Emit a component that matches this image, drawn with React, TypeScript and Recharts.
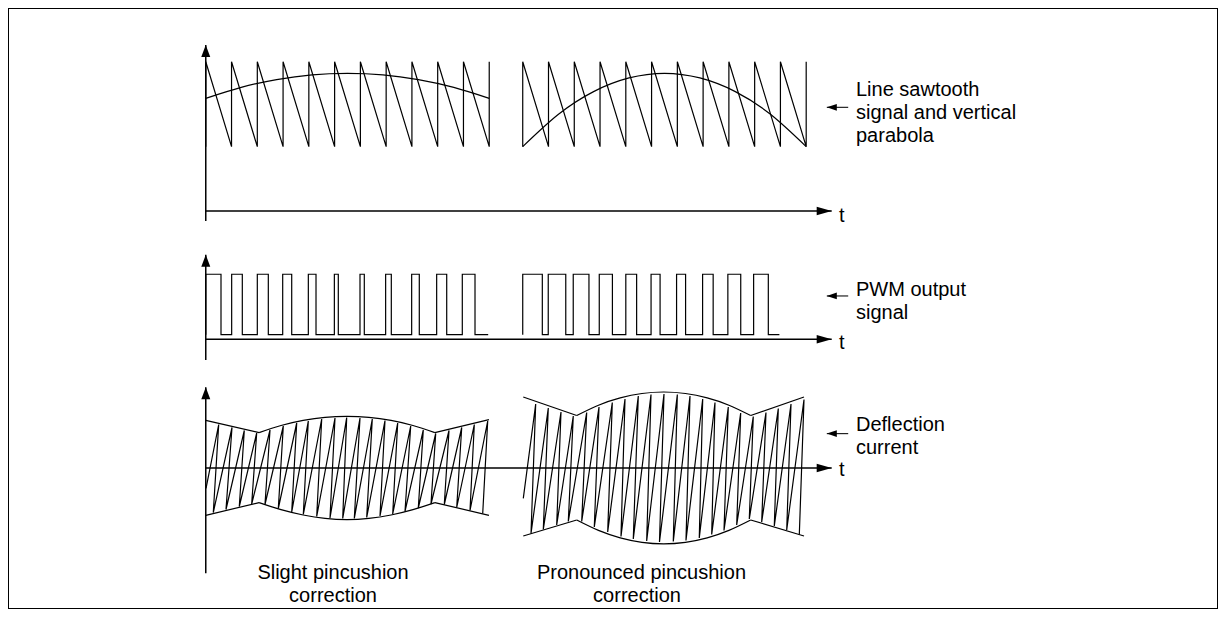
import React from 'react';
import { LineChart, Line, XAxis, YAxis, ReferenceLine, ReferenceDot } from 'recharts';

// ---------- time axis (1 unit = one line period) ----------
const X_DOMAIN: [number, number] = [-1, 25];
const T_AXIS_END = 24.29;
const LABEL_ARROW_TIP = 24.1;
const LABEL_ARROW_TAIL = 24.93;

// ---------- panel 1: line sawtooth + vertical parabola ----------
const SAW_HIGH = 9.95;
const SAW_LOW = 4.29;
const sawLeftTimes = [0, 1, 2, 3, 4, 5, 6, 7, 8, 9, 10, 11];
const sawRightTimes = [12.3, 13.3, 14.3, 15.3, 16.3, 17.3, 18.3, 19.3, 20.3, 21.3, 22.3, 23.3];
const paraLeftT = [0, 1.375, 2.75, 4.125, 5.5, 6.875, 8.25, 9.625, 11];
const paraLeftV = [7.51, 8.24, 8.76, 9.08, 9.18, 9.08, 8.76, 8.24, 7.51];
const paraRightT = [12.3, 13.675, 15.05, 16.425, 17.8, 19.175, 20.55, 21.925, 23.3];
const paraRightV = [4.29, 6.43, 7.96, 8.87, 9.18, 8.87, 7.96, 6.43, 4.29];
const P1_DOMAIN: [number, number] = [-1.6, 11.4];
const P1_YAXIS: [number, number] = [-0.67, 11.07];
const P1_LABEL_Y = 6.91;

// ---------- panel 2: PWM output ----------
const PWM_HIGH = 1;
const PWM_LOW = 0.07;
const pwmLeftRise = [0, 1.005, 2.0, 2.985, 3.98, 4.99, 5.985, 6.98, 7.99, 8.96, 9.955];
const pwmLeftFall = [0.591, 1.418, 2.427, 3.335, 4.278, 5.143, 6.152, 7.2, 8.286, 9.35, 10.448];
const PWM_LEFT_END = 10.96;
const pwmRightRise = [12.3, 13.29, 14.26, 15.27, 16.3, 17.28, 18.27, 19.28, 20.26, 21.26];
const pwmRightFall = [13.06, 13.97, 14.87, 15.78, 16.72, 17.63, 18.62, 19.69, 20.76, 21.83];
const PWM_RIGHT_END = 22.26;
const P2_DOMAIN: [number, number] = [-0.35, 1.45];
const P2_YAXIS: [number, number] = [-0.32, 1.3];
const P2_LABEL_Y = 0.666;

// ---------- panel 3: deflection current ----------
const deflLeftStart = { t: 0.01, v: -2.03 };
const deflLeftTopT = [0.502, 1.018, 1.495, 1.976, 2.493, 3.009, 3.529, 3.979, 4.499, 5.015, 5.469, 5.985, 6.462, 6.955, 7.448, 7.953, 8.441, 8.923, 9.439, 9.932, 10.421, 10.941];
const deflLeftTopV = [4.35, 4.05, 3.75, 3.5, 3.8, 4.2, 4.5, 4.7, 4.9, 5.0, 5.05, 5.0, 4.9, 4.75, 4.5, 4.2, 3.8, 3.45, 3.75, 4.05, 4.35, 4.7];
const deflLeftBotT = [0.292, 0.785, 1.301, 1.782, 2.298, 2.815, 3.335, 3.785, 4.305, 4.821, 5.314, 5.764, 6.245, 6.761, 7.254, 7.731, 8.248, 8.74, 9.256, 9.738, 10.254, 10.747];
const deflLeftBotV = [-4.45, -4.15, -3.85, -3.6, -3.65, -4.05, -4.4, -4.65, -4.85, -5.0, -5.05, -5.05, -4.95, -4.8, -4.6, -4.35, -4.0, -3.6, -3.65, -3.95, -4.25, -4.55];

const deflRightStart = { t: 12.322, v: -3.03 };
const deflRightTopT = [12.803, 13.292, 13.785, 14.262, 14.782, 15.26, 15.776, 16.269, 16.785, 17.278, 17.782, 18.3, 18.791, 19.284, 19.761, 20.277, 20.758, 21.247, 21.74, 22.218, 22.711, 23.215];
const deflRightTopV = [6.4, 6.0, 5.6, 5.2, 5.55, 6.1, 6.55, 6.9, 7.2, 7.35, 7.4, 7.35, 7.2, 6.9, 6.55, 6.1, 5.5, 5.15, 5.55, 5.95, 6.4, 6.85];
const deflRightBotT = [12.621, 13.098, 13.618, 14.068, 14.588, 15.077, 15.597, 16.113, 16.59, 17.11, 17.607, 18.142, 18.635, 19.151, 19.633, 20.11, 20.603, 21.092, 21.573, 22.062, 22.544, 23.033];
const deflRightBotV = [-6.55, -6.15, -5.7, -5.35, -5.35, -5.9, -6.4, -6.85, -7.1, -7.3, -7.4, -7.35, -7.25, -7.0, -6.65, -6.25, -5.7, -5.1, -5.4, -5.8, -6.2, -6.65];

// envelopes: [start, notch] straight, arc between notches, [notch, end] straight
const envLeftEdgeT = [0, 2.07, 8.89, 10.99];
const envLeftUpperEdgeV = [4.77, 3.54, 3.54, 4.84];
const envLeftLowerEdgeV = [-4.73, -3.46, -3.46, -4.73];
const envLeftArcT = [2.07, 2.92, 3.78, 4.63, 5.48, 6.33, 7.19, 8.04, 8.89];
const envLeftUpperArcV = [3.54, 4.25, 4.76, 5.07, 5.17, 5.07, 4.76, 4.25, 3.54];
const envLeftLowerArcV = [-3.46, -4.17, -4.7, -5.04, -5.16, -5.04, -4.7, -4.17, -3.46];

const envRightEdgeT = [12.32, 14.395, 21.147, 23.215];
const envRightUpperEdgeV = [7.1, 5.25, 5.25, 7.1];
const envRightLowerEdgeV = [-6.8, -5.2, -5.2, -6.8];
const envRightArcT = [14.395, 15.239, 16.083, 16.927, 17.77, 18.614, 19.458, 20.302, 21.147];
const envRightUpperArcV = [5.25, 6.28, 7.01, 7.45, 7.6, 7.45, 7.01, 6.28, 5.25];
const envRightLowerArcV = [-5.2, -6.24, -6.98, -7.43, -7.58, -7.43, -6.98, -6.24, -5.2];

const P3_DOMAIN: [number, number] = [-11, 9];
const P3_YAXIS: [number, number] = [-10.53, 8.07];
const P3_LABEL_Y = 3.44;

// ---------- texts ----------
const label1 = ['Line sawtooth', 'signal and vertical', 'parabola'];
const label2 = ['PWM output', 'signal'];
const label3 = ['Deflection', 'current'];
const caption1 = ['Slight pincushion', 'correction'];
const caption2 = ['Pronounced pincushion', 'correction'];
const AXIS_T = 't';

// ---------- helpers that build library data from the arrays ----------
type Pt = { t: number; v: number };
const zip = (ts: number[], vs: number[]): Pt[] => ts.map((t, i) => ({ t, v: vs[i] }));
const sawPoints = (times: number[]): Pt[] =>
  times.flatMap((t) => [{ t, v: SAW_LOW }, { t, v: SAW_HIGH }]);
const pwmPoints = (rise: number[], fall: number[], end: number): Pt[] => [
  ...rise.flatMap((r, i) => [
    { t: r, v: PWM_LOW },
    { t: r, v: PWM_HIGH },
    { t: fall[i], v: PWM_HIGH },
    { t: fall[i], v: PWM_LOW },
  ]),
  { t: end, v: PWM_LOW },
];
const deflPoints = (start: Pt, topT: number[], topV: number[], botT: number[], botV: number[]): Pt[] => [
  start,
  ...topT.flatMap((t, i) => [{ t, v: topV[i] }, { t: botT[i], v: botV[i] }]),
];

const FONT = '"Liberation Sans", Arial, Helvetica, sans-serif';
const CHART_LEFT = 172;
const CHART_WIDTH = 670;

const arrowRight = (len: number, hw: number, fill = '#000') => (p: any) => (
  <polygon points={`${p.cx},${p.cy} ${p.cx - len},${p.cy - hw} ${p.cx - len},${p.cy + hw}`} fill={fill} />
);
const arrowLeft = (len: number, hw: number, fill = '#000') => (p: any) => (
  <polygon points={`${p.cx},${p.cy} ${p.cx + len},${p.cy - hw} ${p.cx + len},${p.cy + hw}`} fill={fill} />
);
const arrowUp = (len: number, hw: number) => (p: any) => (
  <polygon points={`${p.cx},${p.cy} ${p.cx - hw},${p.cy + len} ${p.cx + hw},${p.cy + len}`} fill="#000" />
);

const sig = (key: string, data: Pt[], type: 'linear' | 'natural' = 'linear') => (
  <Line
    key={key}
    data={data}
    dataKey="v"
    type={type}
    stroke="#000"
    strokeWidth={1.2}
    dot={false}
    activeDot={false}
    isAnimationActive={false}
  />
);

function axes(yAxis: [number, number], labelY: number) {
  return [
    <ReferenceLine key="ya" segment={[{ x: 0, y: yAxis[0] }, { x: 0, y: yAxis[1] }]} stroke="#000" strokeWidth={1.5} ifOverflow="visible" />,
    <ReferenceDot key="yah" x={0} y={yAxis[1]} r={0} ifOverflow="visible" shape={arrowUp(12, 4.5)} />,
    <ReferenceLine key="ta" segment={[{ x: 0, y: 0 }, { x: T_AXIS_END, y: 0 }]} stroke="#000" strokeWidth={1.5} ifOverflow="visible" />,
    <ReferenceDot key="tah" x={T_AXIS_END} y={0} r={0} ifOverflow="visible" shape={arrowRight(15, 4.2)} />,
    <ReferenceLine key="la" segment={[{ x: LABEL_ARROW_TIP, y: labelY }, { x: LABEL_ARROW_TAIL, y: labelY }]} stroke="#222" strokeWidth={1.2} ifOverflow="visible" />,
    <ReferenceDot key="lah" x={LABEL_ARROW_TIP} y={labelY} r={0} ifOverflow="visible" shape={arrowLeft(10, 3.4)} />,
  ];
}

function Panel({ top, height, domain, children }: { top: number; height: number; domain: [number, number]; children: React.ReactNode }) {
  return (
    <div style={{ position: 'absolute', left: CHART_LEFT, top }}>
      <LineChart width={CHART_WIDTH} height={height} margin={{ top: 0, right: 0, bottom: 0, left: 0 }}>
        <XAxis type="number" dataKey="t" domain={X_DOMAIN} hide allowDataOverflow />
        <YAxis type="number" domain={domain} hide allowDataOverflow />
        {children}
      </LineChart>
    </div>
  );
}

function TextBlock({ lines, left, top, width, align }: { lines: string[]; left: number; top: number; width?: number; align?: 'left' | 'center' }) {
  return (
    <div
      style={{
        position: 'absolute',
        left,
        top,
        width,
        fontFamily: FONT,
        fontSize: 20,
        lineHeight: '23px',
        color: '#000',
        textAlign: align || 'left',
        whiteSpace: 'nowrap',
      }}
    >
      {lines.map((l, i) => (
        <div key={i}>{l}</div>
      ))}
    </div>
  );
}

export default function App() {
  return (
    <div style={{ position: 'relative', width: 1210, height: 601, background: '#fff' }}>
      <div style={{ position: 'absolute', left: 0, top: 0, width: 1210, height: 601, border: '1px solid #000', boxSizing: 'border-box' as any }} />

      <Panel top={32} height={195} domain={P1_DOMAIN}>
        {axes(P1_YAXIS, P1_LABEL_Y)}
        {sig('sawL', sawPoints(sawLeftTimes))}
        {sig('sawR', sawPoints(sawRightTimes))}
        {sig('parL', zip(paraLeftT, paraLeftV), 'natural')}
        {sig('parR', zip(paraRightT, paraRightV), 'natural')}
      </Panel>

      <Panel top={237} height={117} domain={P2_DOMAIN}>
        {axes(P2_YAXIS, P2_LABEL_Y)}
        {sig('pwmL', pwmPoints(pwmLeftRise, pwmLeftFall, PWM_LEFT_END))}
        {sig('pwmR', pwmPoints(pwmRightRise, pwmRightFall, PWM_RIGHT_END))}
      </Panel>

      <Panel top={369.7} height={200} domain={P3_DOMAIN}>
        {axes(P3_YAXIS, P3_LABEL_Y)}
        {sig('dL', deflPoints(deflLeftStart, deflLeftTopT, deflLeftTopV, deflLeftBotT, deflLeftBotV))}
        {sig('dR', deflPoints(deflRightStart, deflRightTopT, deflRightTopV, deflRightBotT, deflRightBotV))}
        {sig('eLUe1', zip(envLeftEdgeT.slice(0, 2), envLeftUpperEdgeV.slice(0, 2)))}
        {sig('eLUe2', zip(envLeftEdgeT.slice(2), envLeftUpperEdgeV.slice(2)))}
        {sig('eLLe1', zip(envLeftEdgeT.slice(0, 2), envLeftLowerEdgeV.slice(0, 2)))}
        {sig('eLLe2', zip(envLeftEdgeT.slice(2), envLeftLowerEdgeV.slice(2)))}
        {sig('eLUa', zip(envLeftArcT, envLeftUpperArcV), 'natural')}
        {sig('eLLa', zip(envLeftArcT, envLeftLowerArcV), 'natural')}
        {sig('eRUe1', zip(envRightEdgeT.slice(0, 2), envRightUpperEdgeV.slice(0, 2)))}
        {sig('eRUe2', zip(envRightEdgeT.slice(2), envRightUpperEdgeV.slice(2)))}
        {sig('eRLe1', zip(envRightEdgeT.slice(0, 2), envRightLowerEdgeV.slice(0, 2)))}
        {sig('eRLe2', zip(envRightEdgeT.slice(2), envRightLowerEdgeV.slice(2)))}
        {sig('eRUa', zip(envRightArcT, envRightUpperArcV), 'natural')}
        {sig('eRLa', zip(envRightArcT, envRightLowerArcV), 'natural')}
      </Panel>

      <TextBlock lines={label1} left={848} top={69.6} />
      <TextBlock lines={label2} left={848} top={270} />
      <TextBlock lines={label3} left={848} top={405} />
      <TextBlock lines={[AXIS_T]} left={831} top={196} />
      <TextBlock lines={[AXIS_T]} left={831} top={322.6} />
      <TextBlock lines={[AXIS_T]} left={831} top={450.3} />
      <TextBlock lines={caption1} left={225} top={552.9} width={200} align="center" />
      <TextBlock lines={caption2} left={529} top={552.9} width={200} align="center" />
    </div>
  );
}
